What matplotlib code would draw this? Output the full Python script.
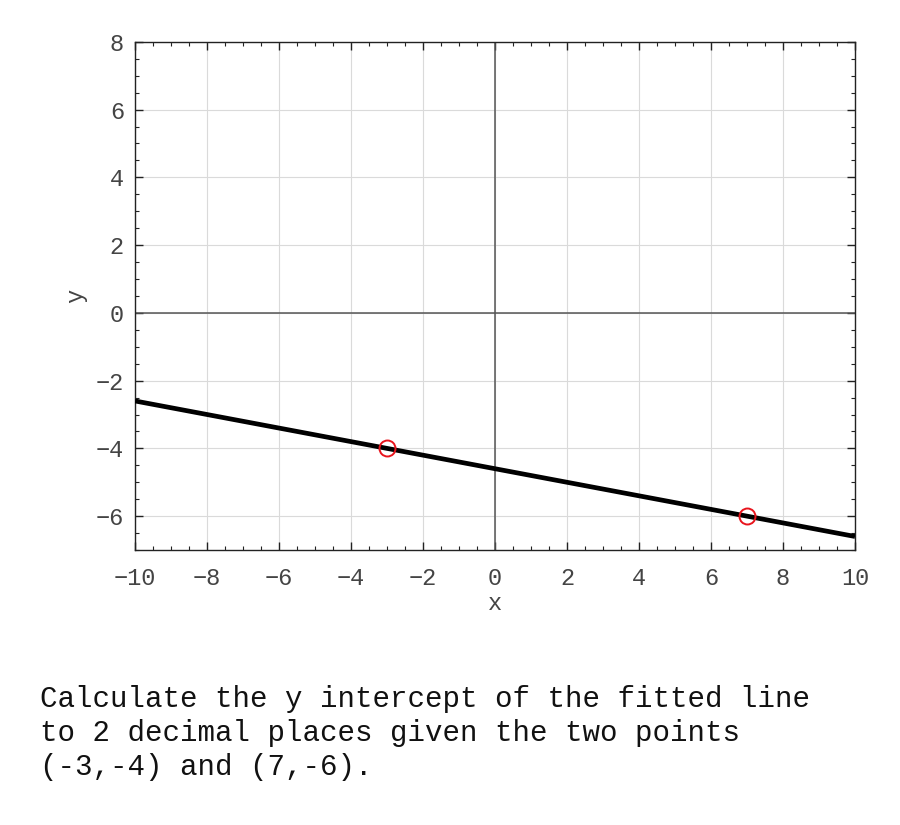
import numpy as np
import matplotlib
matplotlib.use("Agg")
import matplotlib.pyplot as plt
from matplotlib.ticker import MultipleLocator

pts_x = [-3, 7]
pts_y = [-4, -6]
x_range = [-10, 10]
y_range = [-7, 8]
question = ("Calculate the y intercept of the fitted line\n"
            "to 2 decimal places given the two points\n"
            "(-3,-4) and (7,-6).")

plt.rcParams['font.family'] = ['Liberation Mono', 'DejaVu Sans Mono']

fig = plt.figure(figsize=(9, 8.25), dpi=100)
ax = fig.add_axes([0.15, 0.3333, 0.80, 0.616])

slope, intercept = np.polyfit(pts_x, pts_y, 1)
lx = np.array(x_range, dtype=float)
ly = slope * lx + intercept

ax.grid(True, which='major', color='#dadada', lw=0.8)
ax.axhline(0, color='#555555', lw=1.1, zorder=2)
ax.axvline(0, color='#555555', lw=1.1, zorder=2)
ax.plot(lx, ly, color='black', lw=3.4, zorder=3, solid_capstyle='butt')
ax.plot(pts_x, pts_y, 'o', mfc='none', mec='#e8141c', ms=11.5, mew=1.4, zorder=4)

ax.set_xlim(*x_range)
ax.set_ylim(*y_range)
ax.xaxis.set_major_locator(MultipleLocator(2))
ax.yaxis.set_major_locator(MultipleLocator(2))
ax.xaxis.set_minor_locator(MultipleLocator(0.5))
ax.yaxis.set_minor_locator(MultipleLocator(0.5))
ax.tick_params(which='both', direction='in', top=True, right=True, colors='#222222',
               labelcolor='#444444', labelsize=17)
ax.tick_params(which='major', length=6, width=1)
ax.tick_params(which='minor', length=3, width=0.8)
ax.tick_params(axis='x', pad=12)
ax.tick_params(axis='y', pad=8)
for s in ax.spines.values():
    s.set_color('#222222')
    s.set_linewidth(1)
ax.set_xlabel('x', fontsize=17, color='#444444', labelpad=2)
ax.set_ylabel('y', fontsize=17, color='#444444', labelpad=6)

fig.text(0.044, 0.170, question, fontsize=21, color='#111111', va='top',
         ha='left', linespacing=1.28)

fig.savefig('out.png', dpi=100, facecolor='white')
